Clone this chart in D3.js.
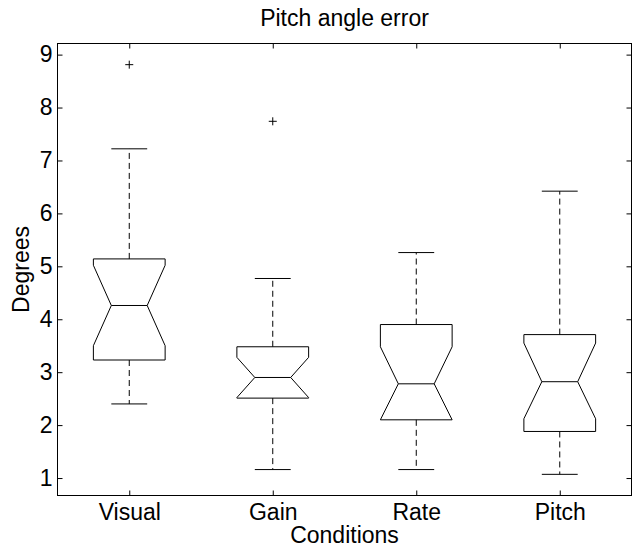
<!DOCTYPE html>
<html>
<head>
<meta charset="utf-8">
<script src="https://cdn.jsdelivr.net/npm/d3@7"></script>
<style>
  html, body { margin: 0; padding: 0; background: #fff; }
  svg { display: block; font-family: "Liberation Sans", Arial, sans-serif; }
  .axis text { font-size: 23px; fill: #000; font-family: "Liberation Sans", Arial, sans-serif; }
  .axis line { stroke: #000; }
  .axis path { display: none; }
</style>
</head>
<body>
<div id="chart"></div>
<script>
// values
const categories = ["Visual", "Gain", "Rate", "Pitch"];
const q1 = [3.23, 2.51, 2.10, 1.88];
const medians = [4.26, 2.90, 2.78, 2.82];
const q3 = [5.14, 3.48, 3.90, 3.71];
const notchLow = [3.50, 2.52, 2.10, 2.12];
const notchHigh = [5.02, 3.28, 3.48, 3.55];
const whiskerLow = [2.40, 1.16, 1.16, 1.07];
const whiskerHigh = [7.22, 4.77, 5.26, 6.42];
const outliers = [[8.81], [7.74], [], []];
const yTicks = [1, 2, 3, 4, 5, 6, 7, 8, 9];

const width = 632, height = 548;
const margin = { left: 57.5, right: 631.5, top: 43.5, bottom: 495.5 };

const svg = d3.select("#chart").append("svg")
  .attr("width", width).attr("height", height);

const x = d3.scaleLinear().domain([0.5, 4.5]).range([margin.left, margin.right]);
const y = d3.scaleLinear().domain([0.67, 9.21]).range([margin.bottom, margin.top]);

const boxes = categories.map((c, i) => ({
  name: c, pos: i + 1,
  q1: q1[i], med: medians[i], q3: q3[i],
  nLo: notchLow[i], nHi: notchHigh[i],
  wLo: whiskerLow[i], wHi: whiskerHigh[i],
  out: outliers[i]
}));

// axes (ticks point inward, as in matlab)
svg.append("g").attr("class", "axis")
  .attr("transform", `translate(${margin.left},0)`)
  .call(d3.axisLeft(y).tickValues(yTicks).tickSizeInner(-5).tickSizeOuter(0).tickPadding(5));

svg.append("g").attr("class", "axis")
  .attr("transform", `translate(${margin.right},0)`)
  .call(d3.axisRight(y).tickValues(yTicks).tickSizeInner(-5).tickSizeOuter(0).tickFormat(""));

svg.append("g").attr("class", "axis")
  .attr("transform", `translate(0,${margin.bottom})`)
  .call(d3.axisBottom(x).tickValues(boxes.map(d => d.pos))
    .tickFormat((d, i) => categories[i]).tickSizeInner(-5).tickSizeOuter(0).tickPadding(8));

svg.append("g").attr("class", "axis")
  .attr("transform", `translate(0,${margin.top})`)
  .call(d3.axisTop(x).tickValues(boxes.map(d => d.pos)).tickSizeInner(-5).tickSizeOuter(0).tickFormat(""));

svg.selectAll(".axis .tick text").attr("fill", "#000");

svg.append("rect")
  .attr("x", margin.left).attr("y", margin.top)
  .attr("width", margin.right - margin.left).attr("height", margin.bottom - margin.top)
  .attr("fill", "none").attr("stroke", "#000").attr("stroke-width", 1);

// boxes
const hw = 0.25, nw = 0.125, cw = 0.125;
const g = svg.append("g");

const box = g.selectAll("g.box").data(boxes).enter().append("g").attr("class", "box");

box.append("path")
  .attr("d", d => {
    const nLo = Math.max(d.nLo, d.q1), nHi = Math.min(d.nHi, d.q3);
    const pts = [
      [d.pos - hw, d.q3], [d.pos + hw, d.q3], [d.pos + hw, nHi], [d.pos + nw, d.med],
      [d.pos + hw, nLo], [d.pos + hw, d.q1], [d.pos - hw, d.q1], [d.pos - hw, nLo],
      [d.pos - nw, d.med], [d.pos - hw, nHi]
    ];
    return d3.line().x(p => x(p[0])).y(p => y(p[1]))(pts) + "Z";
  })
  .attr("fill", "none").attr("stroke", "#000").attr("stroke-width", 1);

box.append("line")
  .attr("x1", d => x(d.pos - nw)).attr("x2", d => x(d.pos + nw))
  .attr("y1", d => y(d.med)).attr("y2", d => y(d.med))
  .attr("stroke", "#000");

// whiskers
box.append("line")
  .attr("x1", d => x(d.pos)).attr("x2", d => x(d.pos))
  .attr("y1", d => y(d.q3)).attr("y2", d => y(d.wHi))
  .attr("stroke", "#000").attr("stroke-dasharray", "6,4");
box.append("line")
  .attr("x1", d => x(d.pos)).attr("x2", d => x(d.pos))
  .attr("y1", d => y(d.q1)).attr("y2", d => y(d.wLo))
  .attr("stroke", "#000").attr("stroke-dasharray", "6,4");

box.append("line")
  .attr("x1", d => x(d.pos - cw)).attr("x2", d => x(d.pos + cw))
  .attr("y1", d => y(d.wHi)).attr("y2", d => y(d.wHi))
  .attr("stroke", "#000");
box.append("line")
  .attr("x1", d => x(d.pos - cw)).attr("x2", d => x(d.pos + cw))
  .attr("y1", d => y(d.wLo)).attr("y2", d => y(d.wLo))
  .attr("stroke", "#000");

// outliers as '+'
box.selectAll("path.out")
  .data(d => d.out.map(v => ({ pos: d.pos, v })))
  .enter().append("path")
  .attr("class", "out")
  .attr("d", o => {
    const cx = x(o.pos), cy = y(o.v);
    return `M${cx - 4},${cy}H${cx + 4}M${cx},${cy - 4}V${cy + 4}`;
  })
  .attr("stroke", "#000").attr("fill", "none");

// labels
svg.append("text")
  .attr("x", (margin.left + margin.right) / 2).attr("y", 26)
  .attr("text-anchor", "middle").attr("font-size", 23)
  .text("Pitch angle error");

svg.append("text")
  .attr("x", (margin.left + margin.right) / 2).attr("y", 543)
  .attr("text-anchor", "middle").attr("font-size", 23)
  .text("Conditions");

svg.append("text")
  .attr("transform", `translate(28.5,${(margin.top + margin.bottom) / 2}) rotate(-90)`)
  .attr("text-anchor", "middle").attr("font-size", 23)
  .text("Degrees");
</script>
</body>
</html>
